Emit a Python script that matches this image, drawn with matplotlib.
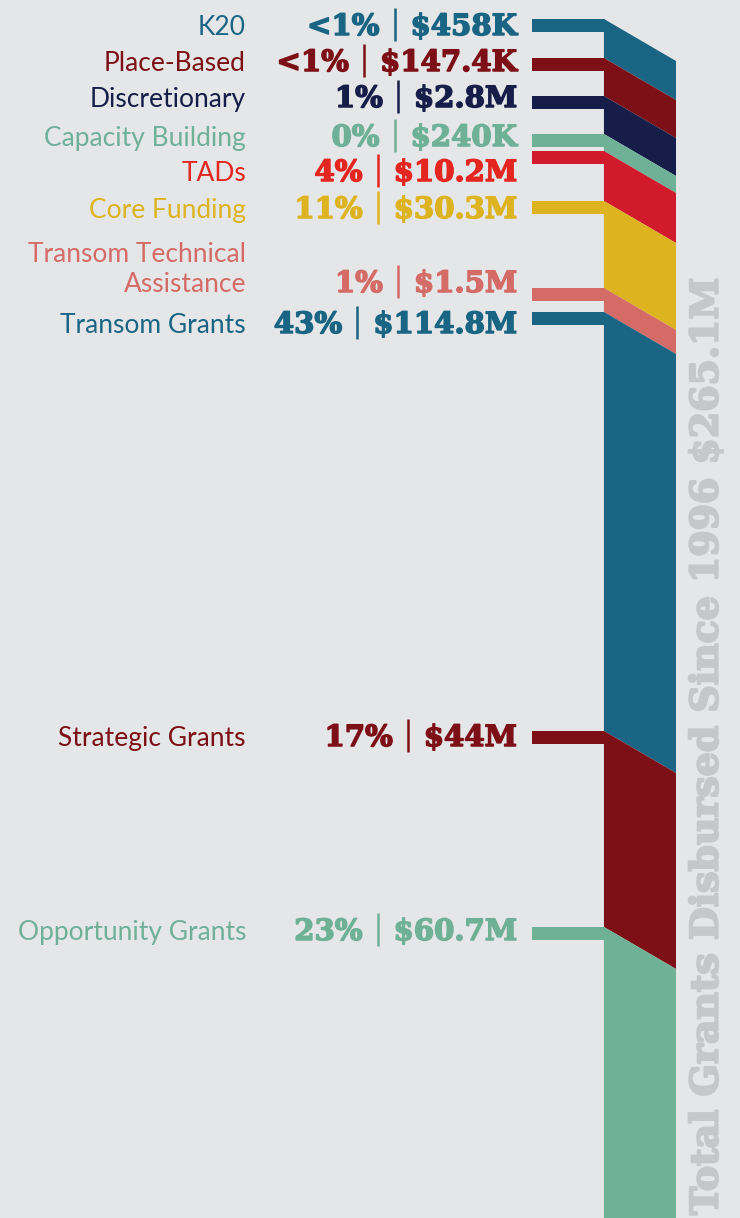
import matplotlib
matplotlib.use('Agg')
import matplotlib.pyplot as plt
import matplotlib.patheffects as pe
from matplotlib.patches import Polygon, Rectangle
import numpy as np

categories = ['K20', 'Place-Based', 'Discretionary', 'Capacity Building', 'TADs',
              'Core Funding', 'Transom Technical\nAssistance', 'Transom Grants',
              'Strategic Grants', 'Opportunity Grants']
shares = ['<1%', '<1%', '1%', '0%', '4%', '11%', '1%', '43%', '17%', '23%']
amounts = ['$458K', '$147.4K', '$2.8M', '$240K', '$10.2M', '$30.3M', '$1.5M',
           '$114.8M', '$44M', '$60.7M']
# drawn height of each band along the column's left edge (px;
# the original does not scale them to the amounts)
band = [39, 38, 38, 17, 50, 87, 24, 419, 196, 300]
title = 'Total Grants Disbursed Since 1996 $265.1M'

bar_colors = ['#1b6584', '#7c1016', '#161d48', '#6fb197', '#d11a2c',
              '#ddb320', '#d46b66', '#1b6584', '#7c1016', '#6fb197']
text_colors = ['#1b6584', '#7c1016', '#161d48', '#6fb197', '#e42520',
               '#ddb320', '#d46b66', '#1b6584', '#7c1016', '#6fb197']
bg = '#e5e6e8'

# text baselines, rows were spaced by hand in the original
baselines = [35, 71, 107, 146, 181, 218, 292, 333, 746, 940]

W, H = 740, 1218
fig = plt.figure(figsize=(W / 100, H / 100), dpi=100)
fig.patch.set_facecolor(bg)
ax = fig.add_axes([0, 0, 1, 1])
ax.set_xlim(0, W)
ax.set_ylim(H, 0)
ax.axis('off')

col_left, col_right, slant = 604, 676, 42
stub_left, stub_h = 532, 13
top = 19
tops = top + np.concatenate([[0], np.cumsum(band)[:-1]])

ax.plot([col_left, col_left], [top, H], color='#9b9b9b', lw=0.9, zorder=1)
for t, h, c in zip(tops, band, bar_colors):
    ax.add_patch(Polygon([(col_left, t), (col_right, t + slant),
                          (col_right, t + h + slant), (col_left, t + h)],
                         closed=True, facecolor=c, lw=0, zorder=2))
    ax.add_patch(Rectangle((stub_left, t), col_left - stub_left, stub_h,
                           facecolor=c, lw=0, zorder=2))

renderer = fig.canvas.get_renderer()
label_size = 19
value_size = 21

for i, cat in enumerate(categories):
    y = baselines[i]
    tc = text_colors[i]
    bold = [pe.withStroke(linewidth=1.1, foreground=tc)]
    for k, line in enumerate(reversed(cat.split('\n'))):
        ax.text(246, y - k * 30, line, ha='right', va='baseline',
                family='Lato', fontsize=label_size, color=tc)
    amt = ax.text(517, y, amounts[i], ha='right', va='baseline',
                  family='DejaVu Serif', weight='bold', fontsize=value_size,
                  color=tc, path_effects=bold)
    x0 = amt.get_window_extent(renderer).x0
    # thin divider between share and amount
    ax.vlines(x0 - 16, y - 27, y + 6, color=tc, lw=1.8)
    ax.text(x0 - 31, y, shares[i], ha='right', va='baseline',
            family='DejaVu Serif', weight='bold', fontsize=value_size,
            color=tc, path_effects=bold)

# vertical total, sized to run from the bottom edge to ~y=278
t = ax.text(707, 1215, title, rotation=90, ha='center', va='bottom',
            family='DejaVu Serif', weight='bold', fontsize=30, color='#c6c7c9',
            path_effects=[pe.withStroke(linewidth=1.6, foreground='#c6c7c9')])
ext = t.get_window_extent(renderer)
t.set_fontsize(30 * (1215 - 278) / ext.height)

fig.savefig('out.png', dpi=100, facecolor=bg)
plt.close(fig)
